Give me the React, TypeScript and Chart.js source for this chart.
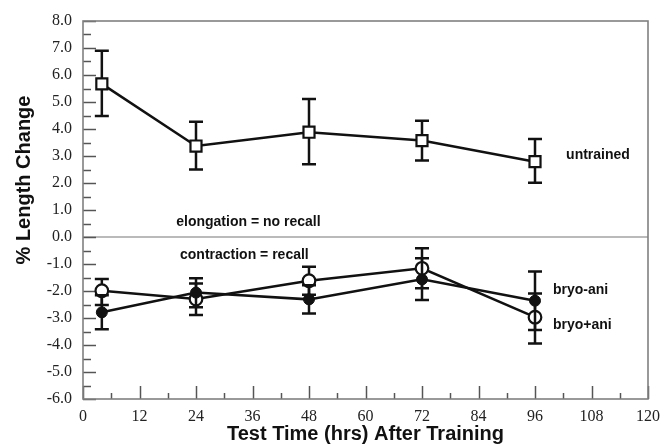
import React, { useEffect, useRef } from "react";
import { Chart, registerables } from "chart.js";

Chart.register(...registerables);

// ---- data ----
const hours = [4, 24, 48, 72, 96];

const untrained = [5.67, 3.37, 3.88, 3.57, 2.79];
const untrainedHi = [6.9, 4.27, 5.11, 4.31, 3.63];
const untrainedLo = [4.48, 2.5, 2.69, 2.83, 2.01];

const bryoMinusAni = [-2.79, -2.06, -2.31, -1.57, -2.36];
const bryoMinusAniHi = [-2.16, -1.53, -1.79, -0.79, -1.28];
const bryoMinusAniLo = [-3.42, -2.6, -2.83, -2.33, -3.44];

const bryoPlusAni = [-1.99, -2.3, -1.62, -1.16, -2.97];
const bryoPlusAniHi = [-1.56, -1.72, -1.1, -0.42, -2.09];
const bryoPlusAniLo = [-2.52, -2.89, -2.14, -1.9, -3.94];

const xMin = 0;
const xMax = 120;
const xStep = 12;
const xMinorStep = 6;
const yMin = -6;
const yMax = 8;
const yStep = 1;
const yMinorStep = 0.5;

const xTitle = "Test Time (hrs) After Training";
const yTitle = "% Length Change";

const notes = [
  { text: "untrained", x: 102.6, y: 3.04 },
  { text: "elongation = no recall", x: 19.8, y: 0.55 },
  { text: "contraction = recall", x: 20.6, y: -0.67 },
  { text: "bryo-ani", x: 99.8, y: -1.96 },
  { text: "bryo+ani", x: 99.8, y: -3.26 },
];

const errorBars: Record<number, { hi: number[]; lo: number[] }> = {
  0: { hi: untrainedHi, lo: untrainedLo },
  1: { hi: bryoMinusAniHi, lo: bryoMinusAniLo },
  2: { hi: bryoPlusAniHi, lo: bryoPlusAniLo },
};

const toPts = (ys: number[]) => hours.map((h, i) => ({ x: h, y: ys[i] }));

const LEFT = 83;
const TOP = 21;
const RIGHT_PAD = 15;
const BOTTOM_H = 46;

const framePlugin = {
  id: "frame",
  beforeDatasetsDraw(chart: any) {
    const { ctx, chartArea: a, scales } = chart;
    const x = scales.x;
    const y = scales.y;
    ctx.save();
    // zero line
    ctx.strokeStyle = "#777";
    ctx.lineWidth = 1.2;
    const y0 = y.getPixelForValue(0);
    ctx.beginPath();
    ctx.moveTo(a.left, y0);
    ctx.lineTo(a.right, y0);
    ctx.stroke();
    // y ticks (inward)
    ctx.strokeStyle = "#555";
    ctx.lineWidth = 1.5;
    for (let v = yMin; v <= yMax + 1e-9; v += yMinorStep) {
      const major = Math.abs(v - Math.round(v)) < 1e-9;
      const len = major ? 13 : 8;
      const py = Math.round(y.getPixelForValue(v)) + 0.5;
      ctx.beginPath();
      ctx.moveTo(a.left, py);
      ctx.lineTo(a.left + len, py);
      ctx.stroke();
    }
    // x ticks (inward)
    for (let h = xMin; h <= xMax + 1e-9; h += xMinorStep) {
      const major = h % xStep === 0;
      const len = major ? 13 : 6;
      const px = Math.round(x.getPixelForValue(h)) + 0.5;
      ctx.beginPath();
      ctx.moveTo(px, a.bottom);
      ctx.lineTo(px, a.bottom - len);
      ctx.stroke();
    }
    // frame
    ctx.strokeStyle = "#808080";
    ctx.lineWidth = 1.6;
    ctx.strokeRect(a.left, a.top, a.right - a.left, a.bottom - a.top);
    ctx.restore();
  },
  beforeDatasetDraw(chart: any, args: any) {
    const eb = errorBars[args.index];
    if (!eb) return;
    const { ctx, scales } = chart;
    const x = scales.x;
    const y = scales.y;
    ctx.save();
    ctx.strokeStyle = "#111";
    ctx.lineWidth = 2.5;
    hours.forEach((h, i) => {
      const px = x.getPixelForValue(h);
      const ph = y.getPixelForValue(eb.hi[i]);
      const pl = y.getPixelForValue(eb.lo[i]);
      ctx.beginPath();
      ctx.moveTo(px, ph);
      ctx.lineTo(px, pl);
      ctx.moveTo(px - 7, ph);
      ctx.lineTo(px + 7, ph);
      ctx.moveTo(px - 7, pl);
      ctx.lineTo(px + 7, pl);
      ctx.stroke();
    });
    ctx.restore();
  },
  afterDraw(chart: any) {
    const { ctx, chartArea: a, scales } = chart;
    const x = scales.x;
    const y = scales.y;
    ctx.save();
    ctx.fillStyle = "#111";
    ctx.font = "bold 14px 'Liberation Sans', Arial, sans-serif";
    ctx.textAlign = "left";
    ctx.textBaseline = "middle";
    notes.forEach((n) => {
      ctx.fillText(n.text, x.getPixelForValue(n.x), y.getPixelForValue(n.y));
    });
    ctx.font = "bold 20px 'Liberation Sans', Arial, sans-serif";
    ctx.textAlign = "center";
    ctx.fillText(xTitle, (a.left + a.right) / 2, 434);
    ctx.translate(24, 180);
    ctx.rotate(-Math.PI / 2);
    ctx.fillText(yTitle, 0, 0);
    ctx.restore();
  },
};

export default function App() {
  const ref = useRef<HTMLCanvasElement | null>(null);

  useEffect(() => {
    if (!ref.current) return;
    const chart = new Chart(ref.current, {
      type: "line",
      data: {
        datasets: [
          {
            label: "untrained",
            data: toPts(untrained),
            borderColor: "#111",
            borderWidth: 2.5,
            pointStyle: "rect",
            pointRadius: 7.8,
            pointBorderWidth: 2.2,
            pointBackgroundColor: "#fff",
            pointBorderColor: "#111",
            tension: 0,
          },
          {
            label: "bryo-ani",
            data: toPts(bryoMinusAni),
            borderColor: "#111",
            borderWidth: 2.5,
            pointStyle: "circle",
            pointRadius: 5.5,
            pointBorderWidth: 1,
            pointBackgroundColor: "#111",
            pointBorderColor: "#111",
            tension: 0,
          },
          {
            label: "bryo+ani",
            data: toPts(bryoPlusAni),
            borderColor: "#111",
            borderWidth: 2.5,
            pointStyle: "circle",
            pointRadius: 6.3,
            pointBorderWidth: 2.2,
            pointBackgroundColor: "#fff",
            pointBorderColor: "#111",
            tension: 0,
          },
        ],
      },
      options: {
        responsive: false,
        animation: false,
        events: [],
        layout: { padding: { left: 0, top: TOP, right: RIGHT_PAD, bottom: 0 } },
        plugins: {
          legend: { display: false },
          tooltip: { enabled: false },
        },
        scales: {
          x: {
            type: "linear",
            min: xMin,
            max: xMax,
            grid: { display: false, drawTicks: false },
            border: { display: false },
            ticks: {
              stepSize: xStep,
              padding: 8,
              color: "#222",
              font: { family: "'Liberation Serif', 'Times New Roman', serif", size: 16 },
              maxRotation: 0,
              autoSkip: false,
            },
            afterFit: (s: any) => {
              s.height = BOTTOM_H;
            },
          },
          y: {
            type: "linear",
            min: yMin,
            max: yMax,
            grid: { display: false, drawTicks: false },
            border: { display: false },
            ticks: {
              stepSize: yStep,
              padding: 11,
              color: "#222",
              font: { family: "'Liberation Serif', 'Times New Roman', serif", size: 16 },
              callback: (v: any) => Number(v).toFixed(1),
            },
            afterFit: (s: any) => {
              s.width = LEFT;
            },
          },
        },
      },
      plugins: [framePlugin],
    });
    return () => chart.destroy();
  }, []);

  return (
    <div style={{ position: "fixed", left: 0, top: 0, width: 668, height: 445, background: "#fff" }}>
      <canvas ref={ref} width={668} height={445} />
    </div>
  );
}
